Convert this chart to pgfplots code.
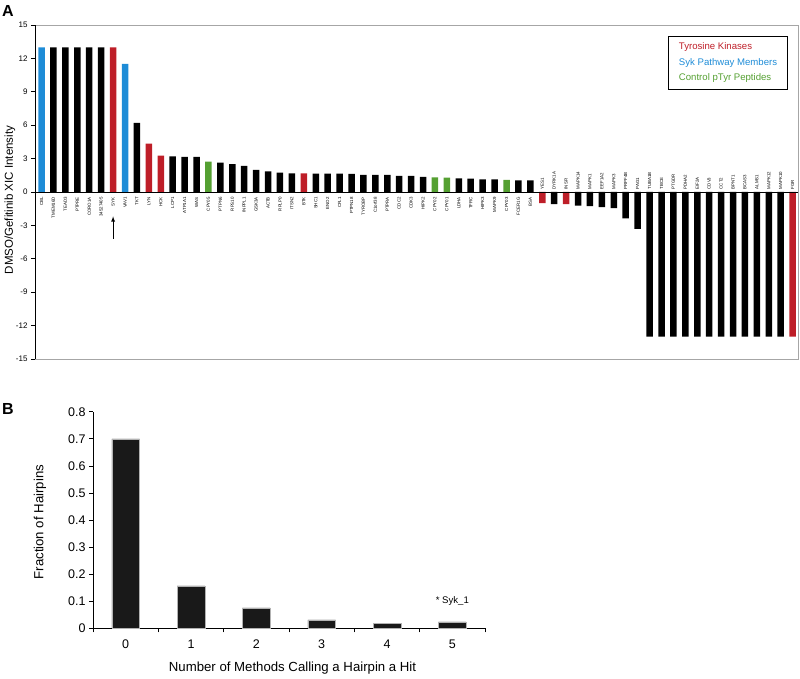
\documentclass[border=0pt]{standalone}
\usepackage{fontspec}
\setmainfont{Liberation Sans}
\usepackage{pgfplots}
\pgfplotsset{compat=1.18}
\definecolor{tkred}{RGB}{190,30,40}
\definecolor{sykblue}{RGB}{30,140,215}
\definecolor{ctrlgreen}{RGB}{85,160,50}

\pgfplotstableread{
x y
1 13
2 13
3 13
4 13
5 13
8 6.2
11 3.2
12 3.15
13 3.15
15 2.63
16 2.5
17 2.35
18 1.98
19 1.86
20 1.74
21 1.68
23 1.65
24 1.65
25 1.65
26 1.62
27 1.53
28 1.53
29 1.53
30 1.44
31 1.44
32 1.35
35 1.23
36 1.2
37 1.14
38 1.14
40 1.05
41 1.05
43 -1.08
45 -1.23
46 -1.26
47 -1.35
48 -1.44
49 -2.37
50 -3.32
51 -13
52 -13
53 -13
54 -13
55 -13
56 -13
57 -13
58 -13
59 -13
60 -13
61 -13
62 -13
}\blackbars

\pgfplotstableread{
x y
6 13
9 4.34
10 3.26
22 1.68
42 -1.0
44 -1.08
63 -13
}\redbars

\pgfplotstableread{
x y
0 13
7 11.5
}\bluebars

\pgfplotstableread{
x y
14 2.72
33 1.32
34 1.29
39 1.1
}\greenbars

\pgfplotstableread{
x y lab
0 0 CBL
1 0 TMEM16D
2 0 TEAD3
3 0 PTPRE
4 0 CORO1A
5 0 34527405
6 0 SYK
7 0 VAV1
8 0 TKT
9 0 LYN
10 0 HCK
11 0 LCP1
12 0 ATP1A1
13 0 WAS
14 0 CPY05
15 0 PTPN6
16 0 RPS10
17 0 INPPL1
18 0 GSK3A
19 0 ACTB
20 0 RPLP0
21 0 ITSN2
22 0 BTK
23 0 SHC1
24 0 ENO2
25 0 CFL1
26 0 PTPN18
27 0 TYROBP
28 0 C1orf38
29 0 PTPRA
30 0 CDC2
31 0 CDK3
32 0 HIPK2
33 0 CPY02
34 0 CPY01
35 0 LDHA
36 0 TFRC
37 0 HIPK3
38 0 MAPK9
39 0 CPY03
40 0 FCER1G
41 0 BSA
}\poslabels

\pgfplotstableread{
x y lab
42 0 YES1
43 0 DYRK1A
44 0 INSR
45 0 MAPK14
46 0 MAPK1
47 0 EEF1A2
48 0 MAPK3
49 0 PRPF4B
50 0 PAG1
51 0 TUBA1B
52 0 TBCE
53 0 PTGDR
54 0 PDHA2
55 0 EIF2A
56 0 CDV3
57 0 CCT2
58 0 BPNT1
59 0 BCAS3
60 0 ALMS1
61 0 MAPK12
62 0 MAPK10
63 0 FGR
}\neglabels

\pgfplotstableread{
x y
0 0.70
1 0.157
2 0.075
3 0.031
4 0.018
5 0.024
}\hairpins

\begin{document}
\begin{tikzpicture}
\useasboundingbox (0,0) rectangle (800pt,678pt);
\node[font=\bfseries\fontsize{16}{16}\selectfont] at (8pt,667pt) {A};
\node[font=\bfseries\fontsize{16}{16}\selectfont] at (8pt,269pt) {B};

\begin{axis}[
  at={(35pt,319pt)}, anchor=south west, scale only axis,
  width=763pt, height=334pt,
  xmin=-0.55, xmax=63.45, ymin=-15, ymax=15,
  ytick={-15,-12,...,15}, xtick=\empty,
  tick align=outside, major tick length=4pt,
  ytick pos=left,
  axis line style={gray!70, line width=0.7pt},
  ytick style={black, line width=0.6pt},
  tick label style={font=\fontsize{8}{9}\selectfont},
  /pgf/number format/assume math mode=true,
  ylabel={DMSO/Gefitinib XIC Intensity},
  ylabel style={font=\fontsize{11.5}{12}\selectfont, at={(axis description cs:-0.0328,0.476)}, anchor=center},
  clip=false,
]
\addplot[ybar, bar width=6.5pt, bar shift=0pt, fill=black, draw=none] table {\blackbars};
\addplot[ybar, bar width=6.5pt, bar shift=0pt, fill=tkred, draw=none] table {\redbars};
\addplot[ybar, bar width=6.5pt, bar shift=0pt, fill=sykblue, draw=none] table {\bluebars};
\addplot[ybar, bar width=6.5pt, bar shift=0pt, fill=ctrlgreen, draw=none] table {\greenbars};
\addplot[draw=none, nodes near coords, point meta=explicit symbolic,
  every node near coord/.append style={font=\fontsize{4.4}{5}\selectfont, yshift=-5pt, rotate=90, anchor=east, inner sep=0pt}]
  table[meta=lab] {\poslabels};
\addplot[draw=none, nodes near coords, point meta=explicit symbolic,
  every node near coord/.append style={font=\fontsize{4.4}{5}\selectfont, yshift=2.5pt, rotate=90, anchor=west, inner sep=0pt}]
  table[meta=lab] {\neglabels};
\draw[black, line width=0.8pt] (axis cs:-0.55,0) -- (axis cs:63.45,0);
\draw[black, line width=0.7pt] (rel axis cs:0,0) -- (rel axis cs:0,1);
\draw[-latex, line width=0.8pt] (axis cs:6,-4.22) -- (axis cs:6,-2.19);
\node[draw=black, line width=0.9pt, anchor=north east, minimum width=119pt, minimum height=53pt,
  align=left, font=\fontsize{9.6}{15.5}\selectfont] at (rel axis cs:0.9869,0.967)
  {\textcolor{tkred}{Tyrosine Kinases}\\\textcolor{sykblue}{Syk Pathway Members}\\\textcolor{ctrlgreen}{Control pTyr Peptides}};
\end{axis}

\begin{axis}[
  at={(93pt,49.7pt)}, anchor=south west, scale only axis,
  width=392pt, height=216.6pt,
  xmin=-0.5, xmax=5.5, ymin=0, ymax=0.8,
  axis lines*=left,
  axis line style={black, line width=0.7pt},
  tick align=outside, major tick length=4pt,
  tick style={black, line width=0.6pt},
  xtick={-0.5,0.5,1.5,2.5,3.5,4.5,5.5}, xticklabels={,,,,,,},
  extra x ticks={0,1,2,3,4,5},
  extra x tick labels={0,1,2,3,4,5},
  extra x tick style={major tick length=0pt},
  ytick={0,0.1,0.2,0.3,0.4,0.5,0.6,0.7,0.8},
  yticklabels={0,0.1,0.2,0.3,0.4,0.5,0.6,0.7,0.8},
  tick label style={font=\fontsize{12.5}{13}\selectfont},
  xticklabel style={yshift=-8pt},
  xlabel={Number of Methods Calling a Hairpin a Hit},
  ylabel={Fraction of Hairpins},
  xlabel style={font=\fontsize{13.2}{14}\selectfont, at={(axis description cs:0.509,-0.185)}, anchor=center},
  ylabel style={font=\fontsize{13.2}{14}\selectfont, at={(axis description cs:-0.135,0.49)}, anchor=center},
  clip=false,
]
\addplot[ybar, bar width=27.7pt, bar shift=0pt, fill=black!90, draw=gray!60, line width=0.5pt] table {\hairpins};
\node[font=\fontsize{9.6}{10}\selectfont] at (axis cs:5,0.102) {* Syk\_1};
\end{axis}
\end{tikzpicture}
\end{document}
